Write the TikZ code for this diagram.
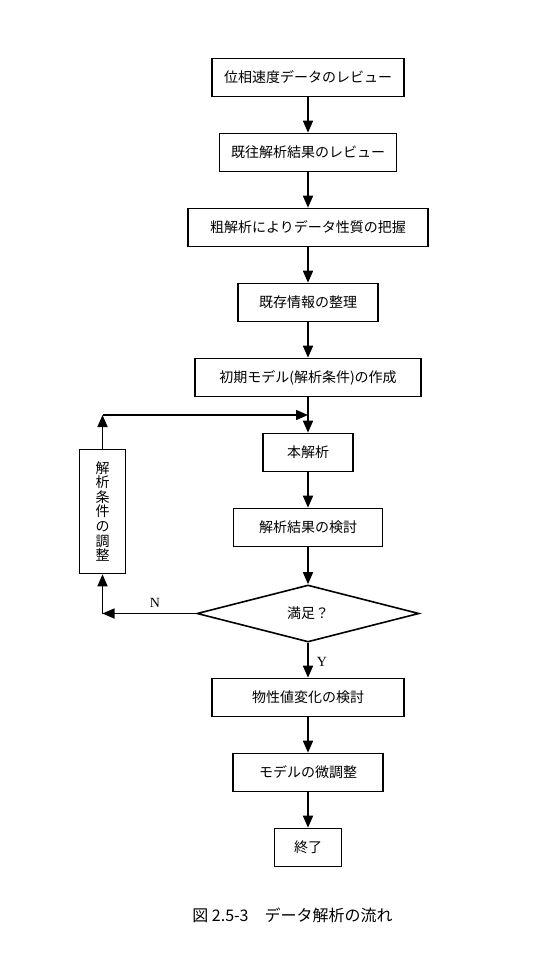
\documentclass[tikz,border=0pt]{standalone}
\usepackage{fontspec}
\setmainfont{Noto Sans CJK JP}
\newfontfamily\latinserif{Liberation Serif}
\usetikzlibrary{calc}
\usetikzlibrary{positioning}
\usetikzlibrary{shapes.geometric}
\usetikzlibrary{arrows.meta}
\newcommand{\boxfont}{\fontsize{14}{15}\selectfont}
\newcommand{\vboxfont}{\fontsize{14}{14.6}\selectfont}
\newcommand{\labelfont}{\latinserif\fontsize{14}{15}\selectfont}
\newcommand{\captionfont}{\fontsize{16}{18}\selectfont}
\tikzset{
    flowbox/.style={rectangle, draw, line width=1.6pt, minimum height=38pt, inner sep=0pt, font=\boxfont},
    flowdia/.style={diamond, draw, line width=1.6pt, minimum width=222pt, minimum height=57pt, inner sep=0pt, font=\boxfont},
    flowline/.style={line width=1.6pt, -{Triangle[length=12pt,width=10pt]}},
}

\begin{document}
\begin{tikzpicture}[x=1pt, y=-1pt, inner sep=0pt, align=center]
    \pgfmathsetmacro{\boxGap}{35.4}
    \pgfmathsetmacro{\diaGapIn}{36.9}
    \pgfmathsetmacro{\diaGapOut}{34.9}
    \useasboundingbox (0,0) rectangle (556,960);

    \node (review_vel) [flowbox, minimum width=192pt] at (308,77.5) {位相速度データのレビュー};
    \node (review_past) [flowbox, minimum width=177pt, below=\boxGap*1pt of review_vel] {既往解析結果のレビュー};
    \node (rough_anal) [flowbox, minimum width=240pt, below=\boxGap*1pt of review_past] {粗解析によりデータ性質の把握};
    \node (sort_info) [flowbox, minimum width=140pt, below=\boxGap*1pt of rough_anal] {既存情報の整理};
    \node (plan_init) [flowbox, minimum width=226pt, below=\boxGap*1pt of sort_info] {初期モデル(解析条件)の作成};
    \node (main_anal) [flowbox, minimum width=90pt, below=\boxGap*1pt of plan_init] {本解析};
    \node (check_res) [flowbox, minimum width=149pt, below=\boxGap*1pt of main_anal] {解析結果の検討};
    \node (satisfied) [flowdia, below=\diaGapIn*1pt of check_res] {満足？};
    \node (check_prop) [flowbox, minimum width=192pt, below=\diaGapOut*1pt of satisfied] {物性値変化の検討};
    \node (fine_tune) [flowbox, minimum width=150pt, below=\boxGap*1pt of check_prop] {モデルの微調整};
    \node (finish) [flowbox, minimum width=67pt, below=\boxGap*1pt of fine_tune] {終了};

    \node (adjust) [flowbox, minimum width=46pt, minimum height=124pt, font=\vboxfont] at (102.5,511.5) {解\\析\\条\\件\\の\\調\\整};

    \draw [flowline] (review_vel.south) -- (review_past.north);
    \draw [flowline] (review_past.south) -- (rough_anal.north);
    \draw [flowline] (rough_anal.south) -- (sort_info.north);
    \draw [flowline] (sort_info.south) -- (plan_init.north);
    \draw [flowline] (plan_init.south) -- (main_anal.north);
    \draw [flowline] (main_anal.south) -- (check_res.north);
    \draw [flowline] (check_res.south) -- (satisfied.north);
    \draw [flowline] (satisfied.south) -- (check_prop.north);
    \draw [flowline] (check_prop.south) -- (fine_tune.north);
    \draw [flowline] (fine_tune.south) -- (finish.north);

    % loop back
    \coordinate (merge) at ($(plan_init.south)!0.5!(main_anal.north)$);
    \coordinate (loop_top) at (adjust.north |- merge);
    \coordinate (loop_bot) at (adjust.south |- satisfied.west);

    \draw [flowline] (satisfied.west) -- (loop_bot);
    \draw [flowline] (loop_bot) -- (adjust.south);
    \draw [flowline] (adjust.north) -- (loop_top);
    \draw [flowline] (loop_top) -- (merge);

    \node (label_n) [font=\labelfont] at (155,603) {N};
    \node (label_y) [font=\labelfont] at (322,662) {Y};

    \node (caption) [font=\captionfont] at (292.5,915) {図 2.5-3　データ解析の流れ};
\end{tikzpicture}
\end{document}
